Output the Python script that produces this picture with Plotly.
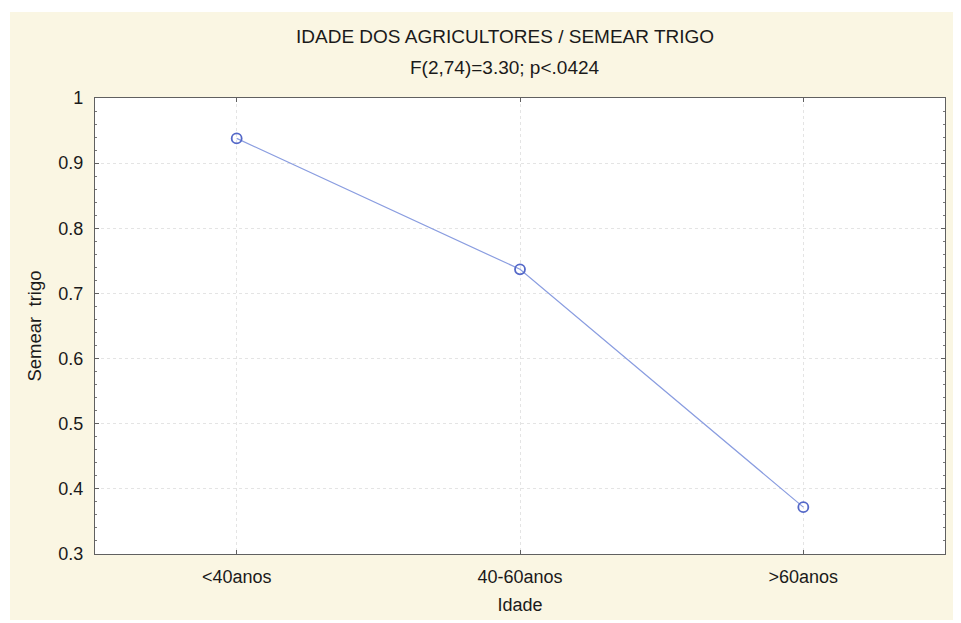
import plotly.graph_objects as go

categories = ["<40anos", "40-60anos", ">60anos"]
values = [0.938, 0.737, 0.372]
y_ticks = [0.3, 0.4, 0.5, 0.6, 0.7, 0.8, 0.9, 1.0]
y_tick_labels = ["0.3", "0.4", "0.5", "0.6", "0.7", "0.8", "0.9", "1"]

# page has an 8px body margin; figure sized to fill the rest of the window
OFF = 8
W, H = 961 - OFF, 623 - OFF
L, R, T, B = 95 - OFF, 16, 98 - OFF, 69
pw = W - L - R
ph = H - T - B

def px_x(p):
    return (p - OFF - L) / pw

def px_y(p):
    return (H - B - (p - OFF)) / ph

font = "Liberation Sans, Arial, sans-serif"
txt = "#1a1a1a"

fig = go.Figure()
fig.add_trace(go.Scatter(
    x=categories, y=values, mode="lines+markers",
    line=dict(color="#8a9de0", width=1.2),
    marker=dict(symbol="circle-open", size=10, color="#5468c8", line=dict(width=1.8)),
    showlegend=False,
))

fig.update_layout(
    width=W, height=H,
    margin=dict(l=L, r=R, t=T, b=B),
    paper_bgcolor="white",
    plot_bgcolor="white",
    font=dict(family=font, size=18, color=txt),
    shapes=[
        dict(type="rect", xref="paper", yref="paper", layer="below",
             x0=px_x(10), x1=px_x(965), y0=px_y(620), y1=px_y(12),
             fillcolor="#FAF6E3", line=dict(width=0)),
        dict(type="rect", xref="paper", yref="paper", layer="below",
             x0=0, x1=1, y0=0, y1=1,
             fillcolor="white", line=dict(width=0)),
    ],
    annotations=[
        dict(text="IDADE DOS AGRICULTORES / SEMEAR TRIGO", xref="paper", yref="paper",
             x=px_x(505), y=px_y(37), showarrow=False, font=dict(size=19, color=txt),
             xanchor="center", yanchor="middle"),
        dict(text="F(2,74)=3.30; p<.0424", xref="paper", yref="paper",
             x=px_x(505), y=px_y(67), showarrow=False, font=dict(size=19, color=txt),
             xanchor="center", yanchor="middle"),
    ],
    xaxis=dict(
        range=[-0.5, 2.5],
        showline=True, linecolor="#606060", linewidth=1.2, mirror="allticks",
        ticks="inside", ticklen=4, tickcolor="#606060",
        ticklabelstandoff=6,
        showgrid=True, gridcolor="#e4e4e4", griddash="dot", gridwidth=1,
        tickfont=dict(size=18, color=txt),
        title=dict(text="Idade", font=dict(size=18, color=txt), standoff=12),
        zeroline=False,
    ),
    yaxis=dict(
        range=[0.3, 1.0],
        tickvals=y_ticks, ticktext=y_tick_labels,
        showline=True, linecolor="#606060", linewidth=1.2, mirror="allticks",
        ticks="inside", ticklen=4, tickcolor="#606060",
        ticklabelstandoff=7,
        minor=dict(dtick=0.02, tick0=0.3, ticks="inside", ticklen=2, tickcolor="#777777", showgrid=False),
        showgrid=True, gridcolor="#e4e4e4", griddash="dot", gridwidth=1,
        tickfont=dict(size=18, color=txt),
        title=dict(text="Semear  trigo", font=dict(size=18.5, color=txt), standoff=11),
        zeroline=False,
    ),
)

fig.write_html("out.html")
